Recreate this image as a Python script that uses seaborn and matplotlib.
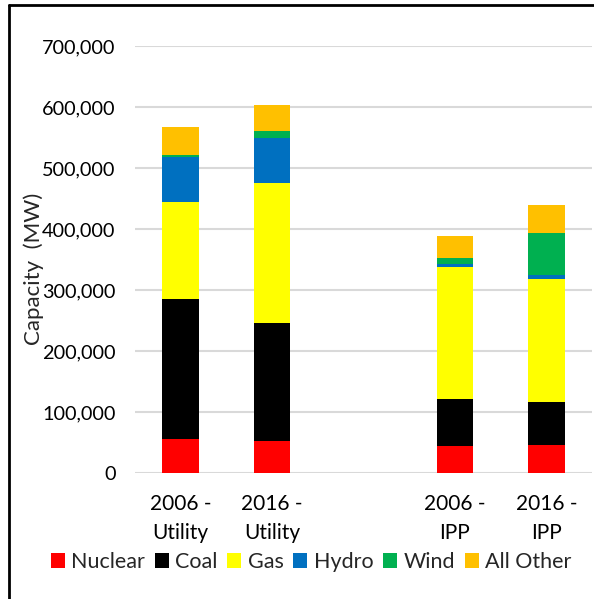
import matplotlib
matplotlib.use("Agg")
import matplotlib.pyplot as plt
import seaborn as sns
import pandas as pd
import numpy as np
from matplotlib.patches import Patch
from matplotlib.lines import Line2D
from matplotlib.ticker import FuncFormatter

categories = ["2006 -\nUtility", "2016 -\nUtility", "2006 -\nIPP", "2016 -\nIPP"]
slots = ["2006 -\nUtility", "2016 -\nUtility", " ", "2006 -\nIPP", "2016 -\nIPP"]
sources = ["Nuclear", "Coal", "Gas", "Hydro", "Wind", "All Other"]
nuclear = [56000, 53000, 44000, 46000]
coal = [230000, 193000, 78000, 71000]
gas = [159000, 230000, 215000, 201000]
hydro = [73000, 74000, 5000, 6000]
wind = [3000, 11000, 10000, 69000]
other = [47000, 43000, 36000, 46000]
colors = ["#FF0000", "#000000", "#FFFF00", "#0070C0", "#00B050", "#FFC000"]

series = [nuclear, coal, gas, hydro, wind, other]
cum = np.cumsum(np.array(series), axis=0)

sns.set_theme(style="white")
plt.rcParams['font.family'] = ['Lato', 'DejaVu Sans']

fig = plt.figure(figsize=(5.94, 5.99), dpi=100)
ax = fig.add_axes([135/594, 1-473/599, 457/594, 427/599])

for i in range(len(sources) - 1, -1, -1):
    df = pd.DataFrame({"cat": categories, "val": cum[i]})
    sns.barplot(data=df, x="cat", y="val", order=slots, color=colors[i],
                width=0.4, ax=ax, saturation=1, edgecolor="none", linewidth=0)

ax.set_ylim(0, 700000)
ax.set_yticks(np.arange(0, 700001, 100000))
ax.yaxis.set_major_formatter(FuncFormatter(lambda v, p: f"{int(v):,}"))
ax.grid(axis="y", color="#D9D9D9", linewidth=1.5)
ax.set_axisbelow(True)
for s in ax.spines.values():
    s.set_visible(False)
ax.tick_params(axis="y", length=0, labelsize=14.3, colors="#000000", pad=14)
ax.tick_params(axis="x", length=0, labelsize=15, colors="#000000", pad=15)
plt.setp(ax.get_xticklabels(), linespacing=1.55)
ax.set_xlabel("")
ax.set_ylabel("Capacity  (MW)", fontsize=16)
ax.yaxis.set_label_coords(-0.199, 0.478)

handles = [Patch(facecolor=c, edgecolor="none") for c in colors]
fig.legend(handles, sources, loc="center", bbox_to_anchor=(311/594, 1-562/599),
           ncol=6, frameon=False, fontsize=15.5, handlelength=0.65, handleheight=0.65,
           handletextpad=0.3, columnspacing=0.45)

fig.add_artist(Line2D([9/594, 1], [1-5/599, 1-5/599], color="black", linewidth=2))
fig.add_artist(Line2D([9/594, 9/594], [0, 1-5/599], color="black", linewidth=2))

fig.savefig("out.png", dpi=100, facecolor="white")
